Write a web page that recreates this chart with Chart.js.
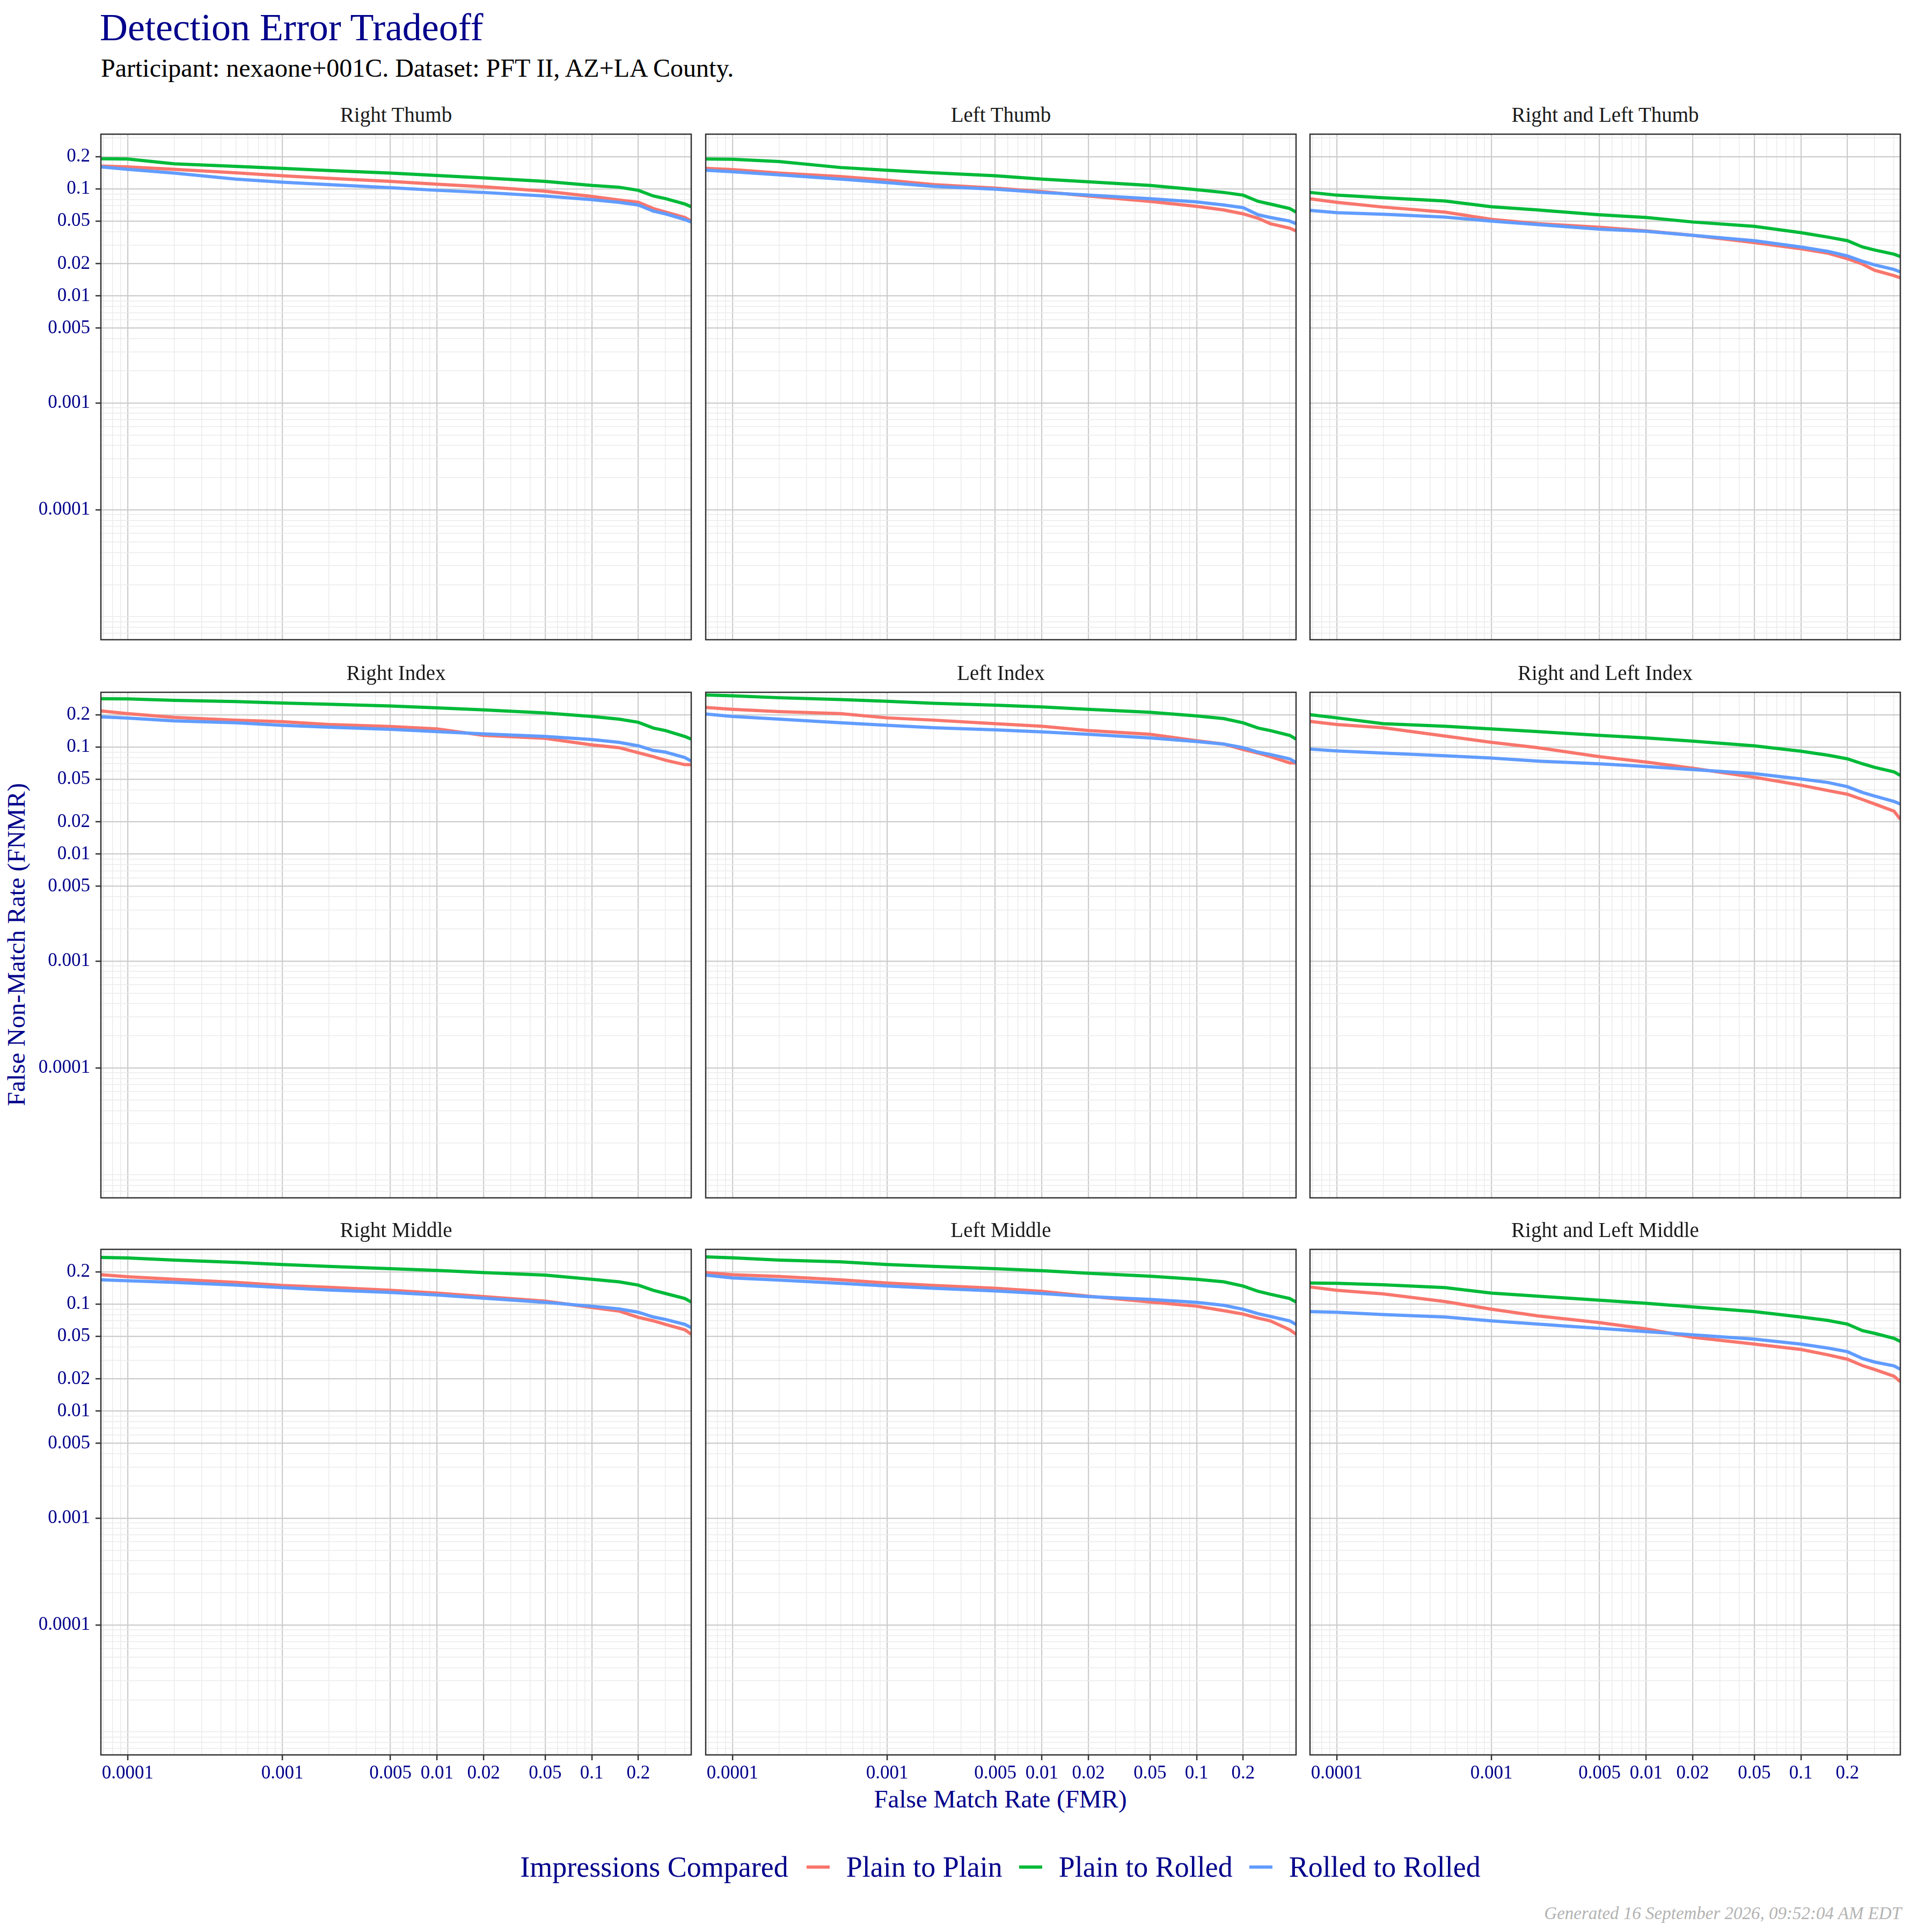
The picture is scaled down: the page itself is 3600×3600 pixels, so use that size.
<!DOCTYPE html>
<html>
<head>
<meta charset="utf-8">
<script src="https://cdn.jsdelivr.net/npm/chart.js@4.4.1/dist/chart.umd.min.js"></script>
<style>
  body { margin: 0; width: 3600px; height: 3600px; background: #fff; position: relative; overflow: hidden; font-family: 'Liberation Serif', serif; }
  .txt { position: absolute; white-space: nowrap; line-height: 1; }
  .panel { position: absolute; }
  .strip { position: absolute; text-align: center; font-size: 39px; line-height: 1; color: #1a1a1a; }
  #legend { position: absolute; left: 0; width: 3728px; top: 3452px; display: flex; justify-content: center; align-items: center; font-size: 54px; line-height: 1; color: #00008B; }
  #legend .key { width: 43px; height: 6px; margin: 0 31px; }
</style>
</head>
<body>
<div class="txt" style="left:186px; top:15px; font-size:72px; color:#00008B;">Detection Error Tradeoff</div>
<div class="txt" style="left:188px; top:103px; font-size:48px; color:#000;">Participant: nexaone+001C. Dataset: PFT II, AZ+LA County.</div>
<div class="txt" style="left:188px; width:3352px; text-align:center; top:3329px; font-size:47px; color:#00008B;">False Match Rate (FMR)</div>
<div class="txt" style="left:-470px; top:1735px; width:1000px; height:50px; line-height:50px; text-align:center; font-size:47px; color:#00008B; transform:rotate(-90deg);">False Non-Match Rate (FNMR)</div>
<div id="legend"></div>
<div class="txt" style="right:57px; top:3549px; font-size:33px; font-style:italic; color:#b3b3b3;">Generated 16 September 2026, 09:52:04 AM EDT</div>

<script>
// FMR points at which the curves were read
var fmr = [0.0000675, 0.0001, 0.0002, 0.0005, 0.001, 0.002, 0.005, 0.01, 0.02, 0.05, 0.1, 0.15, 0.2, 0.25, 0.3, 0.4, 0.439];

// Right Thumb
var rtP2P = [0.164, 0.161, 0.153, 0.142, 0.133, 0.126, 0.118, 0.111, 0.105, 0.0955, 0.0854, 0.0790, 0.0752, 0.0657, 0.0609, 0.0542, 0.0502];
var rtP2R = [0.192, 0.191, 0.172, 0.163, 0.156, 0.149, 0.141, 0.134, 0.127, 0.118, 0.108, 0.104, 0.0973, 0.0861, 0.0813, 0.0724, 0.0683];
var rtR2R = [0.161, 0.153, 0.141, 0.124, 0.116, 0.110, 0.103, 0.0973, 0.0929, 0.0861, 0.0796, 0.0752, 0.0709, 0.0621, 0.0586, 0.0518, 0.0492];
// Left Thumb
var ltP2P = [0.156, 0.152, 0.141, 0.131, 0.121, 0.110, 0.102, 0.0948, 0.0861, 0.0767, 0.0689, 0.0637, 0.0586, 0.0532, 0.0474, 0.0431, 0.0406];
var ltP2R = [0.191, 0.190, 0.181, 0.159, 0.150, 0.142, 0.133, 0.124, 0.117, 0.108, 0.0985, 0.0929, 0.0877, 0.0767, 0.0724, 0.0657, 0.0609];
var ltR2R = [0.150, 0.145, 0.136, 0.124, 0.115, 0.106, 0.0996, 0.0929, 0.0877, 0.0813, 0.0758, 0.0709, 0.0670, 0.0574, 0.0542, 0.0502, 0.0474];
// Right and Left Thumb
var rltP2P = [0.0809, 0.0752, 0.0678, 0.0609, 0.0521, 0.0474, 0.0439, 0.0406, 0.0369, 0.0316, 0.0276, 0.0251, 0.0223, 0.0199, 0.0174, 0.0155, 0.0148];
var rltP2R = [0.0929, 0.0877, 0.0828, 0.0773, 0.0683, 0.0637, 0.0574, 0.0542, 0.0492, 0.0448, 0.0391, 0.0355, 0.0329, 0.0287, 0.0269, 0.0246, 0.0234];
var rltR2R = [0.0632, 0.0601, 0.0581, 0.0546, 0.0502, 0.0465, 0.0422, 0.0402, 0.0369, 0.0329, 0.0287, 0.0261, 0.0237, 0.0211, 0.0195, 0.0177, 0.0168];
// Right Index
var riP2P = [0.218, 0.206, 0.190, 0.179, 0.173, 0.163, 0.156, 0.148, 0.129, 0.121, 0.105, 0.0989, 0.0888, 0.0815, 0.0755, 0.0686, 0.0686];
var riP2R = [0.284, 0.283, 0.274, 0.267, 0.259, 0.252, 0.243, 0.233, 0.223, 0.209, 0.194, 0.183, 0.171, 0.151, 0.143, 0.126, 0.119];
var riR2R = [0.192, 0.187, 0.176, 0.169, 0.160, 0.154, 0.147, 0.140, 0.133, 0.126, 0.118, 0.111, 0.103, 0.0933, 0.0898, 0.0800, 0.0741];
// Left Index
var liP2P = [0.235, 0.226, 0.215, 0.206, 0.188, 0.179, 0.166, 0.157, 0.143, 0.132, 0.115, 0.107, 0.0951, 0.0881, 0.0815, 0.0713, 0.0713];
var liP2R = [0.308, 0.302, 0.290, 0.279, 0.269, 0.257, 0.247, 0.238, 0.226, 0.212, 0.196, 0.185, 0.169, 0.151, 0.143, 0.129, 0.119];
var liR2R = [0.204, 0.194, 0.183, 0.169, 0.160, 0.152, 0.145, 0.139, 0.132, 0.122, 0.113, 0.107, 0.0989, 0.0898, 0.0854, 0.0778, 0.0721];
// Right and Left Index
var rliP2P = [0.174, 0.163, 0.152, 0.127, 0.111, 0.0989, 0.0815, 0.0726, 0.0635, 0.0524, 0.0441, 0.0393, 0.0363, 0.0324, 0.0294, 0.0252, 0.0212];
var rliP2R = [0.201, 0.188, 0.166, 0.157, 0.148, 0.140, 0.129, 0.122, 0.114, 0.103, 0.0916, 0.0841, 0.0778, 0.0699, 0.0647, 0.0588, 0.0544];
var rliR2R = [0.0959, 0.0923, 0.0881, 0.0832, 0.0791, 0.0741, 0.0699, 0.0659, 0.0618, 0.0566, 0.0504, 0.0467, 0.0427, 0.0377, 0.0349, 0.0311, 0.0294];
// Right Middle
var rmP2P = [0.189, 0.181, 0.171, 0.160, 0.150, 0.144, 0.135, 0.127, 0.118, 0.107, 0.0933, 0.0863, 0.0755, 0.0699, 0.0647, 0.0577, 0.0524];
var rmP2R = [0.274, 0.271, 0.259, 0.246, 0.235, 0.226, 0.215, 0.207, 0.198, 0.187, 0.171, 0.162, 0.151, 0.135, 0.126, 0.113, 0.105];
var rmR2R = [0.169, 0.166, 0.160, 0.151, 0.143, 0.136, 0.129, 0.122, 0.114, 0.104, 0.0959, 0.0905, 0.0841, 0.0760, 0.0721, 0.0647, 0.0604];
// Left Middle
var lmP2P = [0.198, 0.189, 0.182, 0.169, 0.158, 0.150, 0.141, 0.132, 0.119, 0.105, 0.0959, 0.0871, 0.0809, 0.0741, 0.0699, 0.0577, 0.0524];
var lmP2R = [0.277, 0.272, 0.259, 0.249, 0.235, 0.226, 0.215, 0.206, 0.195, 0.183, 0.171, 0.162, 0.148, 0.132, 0.124, 0.113, 0.105];
var lmR2R = [0.187, 0.176, 0.168, 0.157, 0.148, 0.141, 0.133, 0.126, 0.118, 0.111, 0.104, 0.0977, 0.0898, 0.0815, 0.0769, 0.0699, 0.0647];
// Right and Left Middle
var rlmP2P = [0.145, 0.135, 0.125, 0.106, 0.0898, 0.0778, 0.0673, 0.0588, 0.0491, 0.0424, 0.0378, 0.0336, 0.0306, 0.0267, 0.0245, 0.0212, 0.0189];
var rlmP2R = [0.158, 0.157, 0.152, 0.143, 0.127, 0.119, 0.109, 0.102, 0.0944, 0.0854, 0.0760, 0.0705, 0.0652, 0.0566, 0.0534, 0.0480, 0.0449];
var rlmR2R = [0.0854, 0.0841, 0.0800, 0.0760, 0.0699, 0.0652, 0.0594, 0.0554, 0.0518, 0.0472, 0.0424, 0.0389, 0.0360, 0.0311, 0.0288, 0.0265, 0.0247];

var tickLabels = ['0.0001', '0.001', '0.005', '0.01', '0.02', '0.05', '0.1', '0.2'];
var seriesNames = ['Plain to Plain', 'Plain to Rolled', 'Rolled to Rolled'];
var panelTitles = ['Right Thumb', 'Left Thumb', 'Right and Left Thumb',
                   'Right Index', 'Left Index', 'Right and Left Index',
                   'Right Middle', 'Left Middle', 'Right and Left Middle'];
var panelSeries = [[rtP2P, rtP2R, rtR2R], [ltP2P, ltP2R, ltR2R], [rltP2P, rltP2R, rltR2R],
                   [riP2P, riP2R, riR2R], [liP2P, liP2R, liR2R], [rliP2P, rliP2R, rliR2R],
                   [rmP2P, rmP2R, rmR2R], [lmP2P, lmP2R, lmR2R], [rlmP2P, rlmP2R, rlmR2R]];

var colours = ['#F8766D', '#00BA38', '#619CFF'];
var X_MIN = 0.0000672, X_MAX = 0.4395;
var Y_MIN = 0.0000061, Y_MAX = 0.326;

// panel geometry (the top margin is wider than half a tick label so Chart.js keeps it)
var colLeft = [188, 1315, 2441];
var rowTop = [250, 1290, 2328];
var PW = 1100, PH = 942;
var ML = 150, MB = 70, MT = 40, MR = 10;

var majorValues = tickLabels.map(Number);
function majorIndex(v) {
  for (var i = 0; i < majorValues.length; i++) {
    if (Math.abs(majorValues[i] - v) / majorValues[i] < 1e-6) return i;
  }
  return -1;
}
// grid at every 1..9 multiple of each decade
function gridValues(min, max) {
  var out = [];
  for (var e = -6; e <= 0; e++) {
    for (var m = 1; m <= 9; m++) {
      var v = Number((m * Math.pow(10, e)).toPrecision(6));
      if (v >= min && v <= max) out.push(v);
    }
  }
  return out;
}

var panelBorder = {
  id: 'panelBorder',
  afterDraw: function(chart) {
    var a = chart.chartArea, c = chart.ctx;
    c.save();
    c.strokeStyle = '#333333';
    c.lineWidth = 2.5;
    c.strokeRect(a.left, a.top, a.right - a.left, a.bottom - a.top);
    c.restore();
  }
};

function axisOptions(min, max, showLabels, isX) {
  return {
    type: 'logarithmic',
    bounds: 'data',
    min: min,
    max: max,
    afterBuildTicks: function(scale) {
      scale.ticks = gridValues(min, max).map(function(v) { return { value: v }; });
    },
    afterFit: function(scale) {
      if (isX) scale.height = MB; else scale.width = ML;
    },
    border: { display: false },
    grid: {
      drawTicks: showLabels,
      tickLength: 10,
      color: function(ctx) { return majorIndex(ctx.tick.value) >= 0 ? '#cccccc' : '#ebebeb'; },
      lineWidth: function(ctx) { return majorIndex(ctx.tick.value) >= 0 ? 2.2 : 1.5; },
      tickColor: function(ctx) { return majorIndex(ctx.tick.value) >= 0 ? '#333333' : 'rgba(0,0,0,0)'; },
      tickWidth: 2.5
    },
    ticks: {
      display: showLabels,
      autoSkip: false,
      maxRotation: 0,
      minRotation: 0,
      padding: isX ? 4 : 10,
      color: '#00008B',
      font: { family: 'Liberation Serif', size: 35 },
      callback: function(value) {
        var i = majorIndex(value);
        return i < 0 ? '' : tickLabels[i];
      }
    }
  };
}

panelTitles.forEach(function(title, p) {
  var row = Math.floor(p / 3), col = p % 3;
  var left = colLeft[col], top = rowTop[row];

  var strip = document.createElement('div');
  strip.className = 'strip';
  strip.style.left = left + 'px';
  strip.style.width = PW + 'px';
  strip.style.top = (top - 56) + 'px';
  strip.textContent = title;
  document.body.appendChild(strip);

  var holder = document.createElement('div');
  holder.className = 'panel';
  holder.style.left = (left - ML) + 'px';
  holder.style.top = (top - MT) + 'px';
  var canvas = document.createElement('canvas');
  canvas.width = ML + PW + MR;
  canvas.height = MT + PH + MB;
  holder.appendChild(canvas);
  document.body.appendChild(holder);

  var datasets = panelSeries[p].map(function(vals, s) {
    return {
      label: seriesNames[s],
      data: fmr.map(function(x, i) { return { x: x, y: vals[i] }; }),
      borderColor: colours[s],
      backgroundColor: colours[s],
      borderWidth: 6,
      pointRadius: 0,
      tension: 0,
      order: 2 - s
    };
  });

  new Chart(canvas, {
    type: 'line',
    data: { datasets: datasets },
    options: {
      responsive: false,
      devicePixelRatio: 1,
      animation: false,
      layout: { padding: { top: MT, right: MR, left: 0, bottom: 0 } },
      plugins: { legend: { display: false }, tooltip: { enabled: false } },
      scales: {
        x: axisOptions(X_MIN, X_MAX, row === 2, true),
        y: axisOptions(Y_MIN, Y_MAX, col === 0, false)
      }
    },
    plugins: [panelBorder]
  });
});

// legend
var legend = document.getElementById('legend');
var head = document.createElement('span');
head.textContent = 'Impressions Compared';
head.style.marginRight = '3px';
legend.appendChild(head);
seriesNames.forEach(function(name, s) {
  var key = document.createElement('span');
  key.className = 'key';
  key.style.background = colours[s];
  legend.appendChild(key);
  var lab = document.createElement('span');
  lab.textContent = name;
  legend.appendChild(lab);
});
</script>
</body>
</html>
